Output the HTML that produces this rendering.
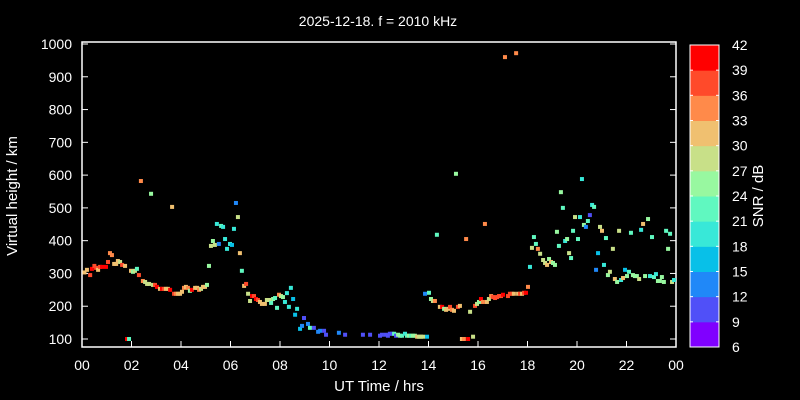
<!DOCTYPE html>
<html><head><meta charset="utf-8"><style>
html,body{margin:0;padding:0;background:#000;overflow:hidden;width:800px;height:400px;}
svg{display:block;}
svg text{font-family:"Liberation Sans",sans-serif;fill:#fff;}
</style></head><body>
<svg id="chart" width="800" height="400" viewBox="0 0 800 400" xmlns="http://www.w3.org/2000/svg">
<rect x="0" y="0" width="800" height="400" fill="#000"/>
<text x="378" y="26" font-size="14" text-anchor="middle">2025-12-18. f = 2010 kHz</text>
<g id="plot"></g>
<text x="379" y="391" font-size="15" text-anchor="middle">UT Time / hrs</text>
<text transform="translate(17,196) rotate(-90)" font-size="15" text-anchor="middle">Virtual height / km</text>
<g id="cbar"></g>
<text transform="translate(763,196) rotate(-90)" font-size="15" text-anchor="middle">SNR / dB</text>
</svg>
<script>
const times=[0.1,0.2,0.33,0.4,0.5,0.57,0.65,0.73,0.81,0.97,1.05,1.13,1.21,1.3,1.38,1.45,1.54,1.62,1.74,1.82,1.9,1.98,2.06,2.14,2.22,2.3,2.38,2.46,2.55,2.63,2.71,2.79,2.87,2.95,3.03,3.15,3.23,3.31,3.39,3.47,3.56,3.64,3.72,3.8,3.88,3.96,4.04,4.12,4.2,4.28,4.36,4.44,4.57,4.65,4.73,4.81,4.89,4.97,5.05,5.13,5.21,5.29,5.37,5.45,5.53,5.62,5.7,5.78,5.86,5.98,6.06,6.14,6.22,6.3,6.38,6.46,6.55,6.63,6.71,6.79,6.87,6.95,7.03,7.11,7.19,7.27,7.39,7.47,7.56,7.64,7.72,7.8,7.88,7.96,8.04,8.12,8.2,8.28,8.36,8.44,8.53,8.61,8.69,8.81,8.89,8.97,9.13,9.21,9.37,9.54,9.62,9.78,9.86,10.38,10.63,11.35,11.64,12.04,12.12,12.28,12.36,12.44,12.53,12.61,12.69,12.77,12.85,12.93,13.05,13.13,13.21,13.29,13.37,13.45,13.54,13.62,13.7,13.78,13.94,13.86,14.02,14.1,14.18,14.26,14.34,14.46,14.55,14.63,14.71,14.79,14.87,14.95,15.03,15.11,15.19,15.27,15.35,15.43,15.52,15.6,15.68,15.8,15.88,15.96,16.04,16.12,16.2,16.28,16.36,16.44,16.53,16.61,16.69,16.77,16.85,16.93,17.01,17.09,17.21,17.29,17.37,17.45,17.54,17.62,17.7,17.78,17.86,17.94,18.02,18.1,18.18,18.26,18.34,18.42,18.51,18.63,18.71,18.79,18.87,18.95,19.03,19.11,19.19,19.27,19.35,19.43,19.52,19.6,19.68,19.76,19.84,19.92,20.04,20.12,20.2,20.28,20.36,20.44,20.52,20.61,20.69,20.77,20.85,20.93,21.01,21.09,21.17,21.25,21.33,21.45,21.53,21.62,21.7,21.78,21.86,21.94,22.02,22.1,22.18,22.26,22.34,22.42,22.51,22.59,22.67,22.75,22.87,22.95,23.03,23.11,23.19,23.27,23.35,23.43,23.51,23.6,23.68,23.76,23.84,23.92];
const heights=[303,311,295,314,323,317,311,320,320,320,335,362,356,329,329,338,335,326,323,100,100,308,305,308,314,295,582,277,274,268,268,543,265,265,259,253,253,253,253,253,250,503,238,238,238,238,244,256,259,256,247,250,256,256,250,253,259,259,265,323,384,399,387,451,390,445,442,405,375,390,387,436,515,472,362,308,262,268,238,216,231,231,222,219,213,207,207,219,219,210,222,225,195,235,231,228,213,240,198,256,222,174,192,131,140,164,146,134,134,122,125,125,113,119,113,113,113,110,113,113,110,116,116,116,110,113,110,110,116,110,110,110,110,110,107,107,107,107,107,238,241,222,216,216,418,198,198,192,189,192,198,189,186,604,198,201,100,100,405,100,183,107,201,207,213,222,213,451,213,222,231,228,225,228,231,231,235,960,231,238,238,238,972,238,238,238,241,241,259,320,378,411,390,375,360,341,332,326,344,335,332,326,427,384,548,500,399,405,362,347,430,472,405,472,588,448,442,460,478,509,503,311,362,442,430,326,408,295,305,375,283,274,430,280,286,311,292,305,424,295,292,292,283,433,451,292,466,292,411,289,298,277,277,289,274,430,375,421,274,280];
const snrs=[30,30,39,42,39,39,33,39,42,42,39,36,36,33,33,30,27,39,33,42,21,30,24,27,21,39,36,36,27,27,27,24,27,39,42,33,42,39,33,30,42,33,39,36,30,30,33,36,33,36,24,42,30,33,36,27,33,30,24,24,27,24,27,18,12,21,18,18,18,18,15,18,12,27,33,21,33,39,27,27,42,39,42,39,33,30,30,27,27,21,24,21,21,36,27,24,18,18,18,18,15,15,18,15,12,9,12,21,9,12,12,9,9,12,9,9,9,9,9,9,9,9,9,21,9,24,24,21,18,21,24,21,24,24,30,27,27,27,15,12,21,24,27,36,21,30,42,24,33,33,39,36,33,24,39,33,33,36,36,42,27,27,39,27,24,42,36,36,33,27,36,39,39,39,39,39,42,36,39,39,39,33,36,33,39,33,39,42,36,18,27,21,21,36,27,27,27,33,24,30,24,24,24,21,24,21,18,24,27,21,21,27,21,18,18,24,12,21,9,18,21,12,15,27,33,18,21,24,27,27,33,24,27,18,33,15,24,21,21,24,24,24,27,18,33,24,24,18,21,21,18,24,24,24,24,21,24,21,27,18];
const xTicks=["00","02","04","06","08","10","12","14","16","18","20","22","00"];
const yTicks=[100,200,300,400,500,600,700,800,900,1000];
const cbTicks=[6,9,12,15,18,21,24,27,30,33,36,39,42];
const cbColors=["#8000ff","#5050f8","#2088f8","#08c0e8","#38e8d8","#60f8c0","#98f8a0","#c8e088","#f0c070","#ff8a4a","#ff4a2a","#ff0000"];

const X0=82,X1=676,Y0=347,Ytop=44;
const xs=h=>X0+(X1-X0)*h/24;
const ys=v=>339-(v-100)*(339-Ytop)/900;
const NS="http://www.w3.org/2000/svg";
function mk(tag,attrs,parent){const e=document.createElementNS(NS,tag);for(const k in attrs)e.setAttribute(k,attrs[k]);parent.appendChild(e);return e;}
const plot=document.getElementById('plot');
const frame=mk('rect',{x:X0,y:Ytop-2,width:X1-X0,height:Y0-Ytop+2,fill:'none',stroke:'#fff','stroke-width':1.5},plot);


xTicks.forEach((t,i)=>{
  const x=xs(i*2);
  const l=mk('line',{x1:x,x2:x,y1:Y0,y2:Y0-6,stroke:'#fff','stroke-width':1},plot);
  
  
  const tx=mk('text',{x:x,y:370,'font-size':14,'text-anchor':'middle'},plot);tx.textContent=t;
  
  
});
yTicks.forEach(v=>{
  const y=ys(v);
  mk('line',{x1:X0,x2:X0+6,y1:y,y2:y,stroke:'#fff'},plot);
  mk('line',{x1:X1,x2:X1-6,y1:y,y2:y,stroke:'#fff'},plot);
  const tx=mk('text',{x:72,y:y+5,'font-size':14,'text-anchor':'end'},plot);tx.textContent=v;
  
  
});
function colorFor(s){let i=s<=30?Math.floor((s-6)/3):Math.ceil((s-6)/3)-1;i=Math.max(0,Math.min(11,i));return cbColors[i];}
times.forEach((t,i)=>{
  const r=mk('rect',{x:xs(t)-2,y:ys(heights[i])-2,width:4,height:4,fill:colorFor(snrs[i])},plot);
  
  
});
const cb=document.getElementById('cbar');
const CB0=347,CB1=45,segH=(CB0-CB1)/12;
cbColors.forEach((c,i)=>{
  const r=mk('rect',{x:690,y:CB0-(i+1)*segH,width:29,height:segH+0.5,fill:c},cb);
  
  
});
mk('rect',{x:690,y:CB1,width:29,height:CB0-CB1,fill:'none',stroke:'#fff','stroke-width':1},cb);
cbTicks.forEach((t,i)=>{
  const y=CB0-i*segH;
  mk('line',{x1:690,x2:693,y1:y,y2:y,stroke:'#fff'},cb);
  mk('line',{x1:716,x2:719,y1:y,y2:y,stroke:'#fff'},cb);
  const tx=mk('text',{x:732,y:y+5,'font-size':14},cb);tx.textContent=t;
  
  
});
</script>
</body></html>
